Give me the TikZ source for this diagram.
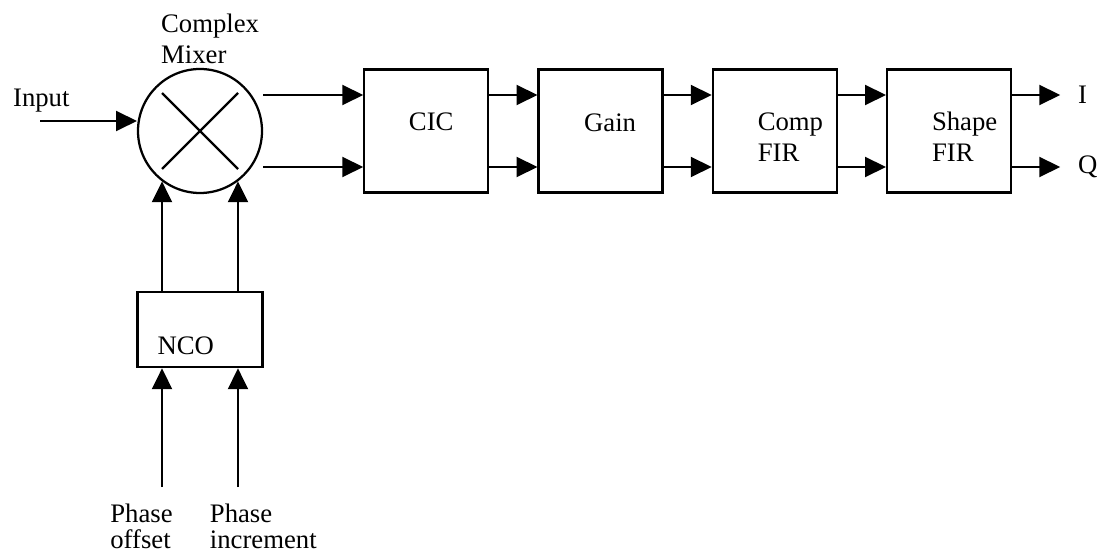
\documentclass[tikz,border=0pt]{standalone}
\usepackage{fontspec}
\setmainfont{Liberation Serif}
\usetikzlibrary{positioning,arrows.meta}

\begin{document}
\begin{tikzpicture}[line width=1.6pt,node distance=1.2cm,
	font=\fontsize{19}{22}\selectfont,
	block/.style = {draw, minimum width=3.1cm, minimum height=3.075cm, inner sep=0pt},
	txt/.style = {inner sep=0pt, align=left},
	arr/.style = {-{Triangle[length=0.52cm,width=0.5cm]}}]

\useasboundingbox (0,0) rectangle (27.45,13.875);

% mixer
\node[circle,draw,minimum size=3.1cm,inner sep=0pt] (mix) at (5,10.6) {};
\draw ([shift={(-0.95,0.95)}]mix.center) -- ([shift={(0.95,-0.95)}]mix.center);
\draw ([shift={(-0.95,-0.95)}]mix.center) -- ([shift={(0.95,0.95)}]mix.center);
\node[txt,anchor=north west] (mixlbl) at (4,13.55) {Complex\\Mixer};

\node[txt,anchor=base west] (inlbl) at (0.3,11.2) {Input};
\coordinate (in) at (1,10.85);
\draw[arr] (in) -- (in -| mix.west);

% filter chain
\node[block,right=2.5cm of mix] (cic) {};
\node[block,right=of cic] (gain) {};
\node[block,right=of gain] (comp) {};
\node[block,right=of comp] (shape) {};

\node[txt] (cictxt) at ([shift={(0.125,0.225)}]cic.center) {CIC};
\node[txt] (gaintxt) at ([shift={(0.24,0.2)}]gain.center) {Gain};
\node[txt,anchor=west] (comptxt) at ([shift={(1.125,-0.15)}]comp.west) {Comp\\FIR};
\node[txt,anchor=west] (shapetxt) at ([shift={(1.125,-0.15)}]shape.west) {Shape\\FIR};

\foreach \a/\b in {mix/cic,cic/gain,gain/comp,comp/shape}
	\foreach \s in {0.9,-0.9}
		\draw[arr] ([yshift=\s cm]\a.east) -- ([yshift=\s cm]\b.west);

\coordinate (outI) at ([shift={(1.2,0.9)}]shape.east);
\coordinate (outQ) at ([shift={(1.2,-0.9)}]shape.east);
\draw[arr] (outI -| shape.east) -- (outI);
\draw[arr] (outQ -| shape.east) -- (outQ);
\node[txt,right=0.42cm of outI] (itxt) {I};
\node[txt,right=0.42cm of outQ] (qtxt) {Q};

% oscillator
\node[block,minimum width=3.125cm,minimum height=1.875cm,below=2.425cm of mix] (nco) {};
\node[txt,anchor=west] (ncotxt) at ([shift={(0.5,-0.4)}]nco.west) {NCO};

\foreach \ang in {-127,-53}
	\draw[arr] (mix.\ang |- nco.north) -- (mix.\ang);

\coordinate (po) at (mix.-127 |- 0,1.7);
\coordinate (pi) at (mix.-53 |- 0,1.7);
\draw[arr] (po) -- (po |- nco.south);
\draw[arr] (pi) -- (pi |- nco.south);
\node[txt,anchor=north west] (polbl) at ([shift={(-1.32,-0.4)}]po) {Phase\\[-3.5pt]offset};
\node[txt,anchor=north west] (pilbl) at ([shift={(-0.73,-0.4)}]pi) {Phase\\[-3.5pt]increment};

\end{tikzpicture}
\end{document}
